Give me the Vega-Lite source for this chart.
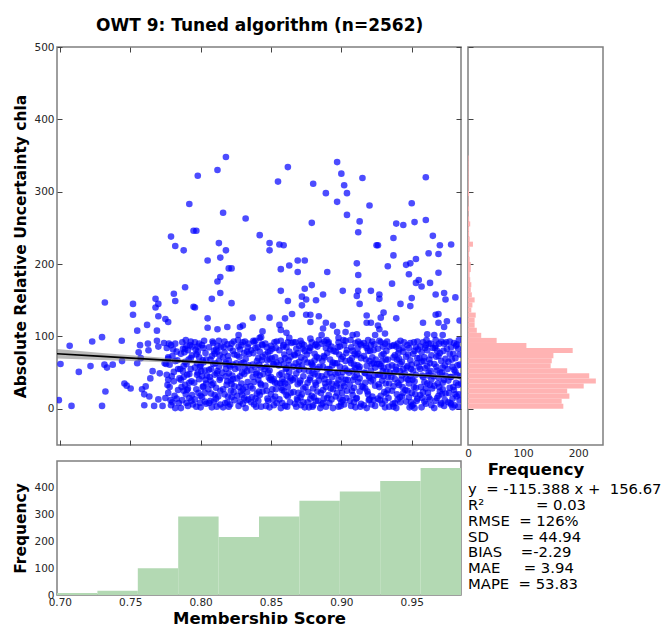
{
"$schema":"https://vega.github.io/schema/vega-lite/v6.json",
"background":"white",
"padding":{"left":13,"top":17,"right":0,"bottom":0},
"title":{"text":"OWT 9: Tuned algorithm (n=2562)","anchor":"start","frame":"group","dx":39,"offset":-7,"baseline":"alphabetic","font":"DejaVu Sans","fontSize":17,"fontWeight":"bold","color":"#000"},
"config":{
 "font":"DejaVu Sans",
 "view":{"stroke":"#7f7f7f","strokeWidth":1.5},
 "axis":{"domain":false,"grid":false,"labelFont":"DejaVu Sans","labelFontSize":10.5,"labelColor":"#262626","titleFont":"DejaVu Sans","titleFontWeight":"bold","titleColor":"#000","tickColor":"#444","minExtent":0,"labelFlush":false,"labelOverlap":false}
},
"datasets":{
"pts":[
{"m":0.818,"u":348},{"m":0.812,"u":330},{"m":0.798,"u":322},{"m":0.792,"u":283},{"m":0.816,"u":271},{"m":0.832,"u":263},{"m":0.842,"u":240},{"m":0.795,"u":246},{"m":0.797,"u":246},{"m":0.779,"u":238},{"m":0.782,"u":225},{"m":0.788,"u":219},{"m":0.813,"u":229},{"m":0.818,"u":219},{"m":0.814,"u":209},{"m":0.805,"u":205},{"m":0.820,"u":194},{"m":0.822,"u":194},{"m":0.814,"u":182},{"m":0.812,"u":176},{"m":0.814,"u":160},{"m":0.808,"u":152},{"m":0.822,"u":146},{"m":0.789,"u":168},{"m":0.781,"u":159},{"m":0.782,"u":149},{"m":0.768,"u":152},{"m":0.770,"u":145},{"m":0.768,"u":140},{"m":0.795,"u":141},{"m":0.796,"u":140},{"m":0.732,"u":147},{"m":0.752,"u":145},{"m":0.752,"u":130},{"m":0.770,"u":128},{"m":0.775,"u":124},{"m":0.777,"u":120},{"m":0.762,"u":116},{"m":0.755,"u":108},{"m":0.769,"u":108},{"m":0.805,"u":125},{"m":0.837,"u":126},{"m":0.819,"u":113},{"m":0.828,"u":113},{"m":0.830,"u":115},{"m":0.812,"u":110},{"m":0.805,"u":112},{"m":0.723,"u":93},{"m":0.730,"u":99},{"m":0.744,"u":94},{"m":0.827,"u":102},{"m":0.842,"u":98},
{"m":0.897,"u":341},{"m":0.862,"u":334},{"m":0.855,"u":314},{"m":0.900,"u":325},{"m":0.915,"u":319},{"m":0.960,"u":320},{"m":0.880,"u":311},{"m":0.902,"u":309},{"m":0.889,"u":298},{"m":0.904,"u":298},{"m":0.897,"u":286},{"m":0.920,"u":281},{"m":0.950,"u":284},{"m":0.904,"u":268},{"m":0.879,"u":257},{"m":0.913,"u":259},{"m":0.912,"u":244},{"m":0.939,"u":256},{"m":0.944,"u":254},{"m":0.952,"u":258},{"m":0.960,"u":261},{"m":0.965,"u":239},{"m":0.849,"u":229},{"m":0.849,"u":219},{"m":0.856,"u":227},{"m":0.859,"u":226},{"m":0.925,"u":226},{"m":0.926,"u":226},{"m":0.937,"u":236},{"m":0.970,"u":226},{"m":0.978,"u":227},{"m":0.962,"u":215},{"m":0.969,"u":214},{"m":0.937,"u":212},{"m":0.911,"u":201},{"m":0.912,"u":185},{"m":0.857,"u":193},{"m":0.863,"u":198},{"m":0.869,"u":205},{"m":0.874,"u":205},{"m":0.869,"u":189},{"m":0.890,"u":189},{"m":0.933,"u":197},{"m":0.946,"u":199},{"m":0.949,"u":201},{"m":0.953,"u":207},{"m":0.948,"u":186},{"m":0.969,"u":188},{"m":0.879,"u":171},{"m":0.874,"u":166},{"m":0.857,"u":163},{"m":0.887,"u":158},{"m":0.901,"u":163},{"m":0.912,"u":163},{"m":0.921,"u":163},{"m":0.936,"u":173},{"m":0.955,"u":178},{"m":0.953,"u":174},{"m":0.963,"u":174},{"m":0.957,"u":169},{"m":0.967,"u":158},{"m":0.973,"u":160},{"m":0.981,"u":154},{"m":0.974,"u":151},{"m":0.927,"u":158},{"m":0.927,"u":152},{"m":0.911,"u":156},{"m":0.872,"u":155},{"m":0.862,"u":149},{"m":0.875,"u":151},{"m":0.882,"u":150},{"m":0.872,"u":143},{"m":0.913,"u":145},{"m":0.950,"u":153},{"m":0.949,"u":142},{"m":0.942,"u":145},{"m":0.930,"u":133},{"m":0.849,"u":126},{"m":0.860,"u":125},{"m":0.865,"u":131},{"m":0.875,"u":130},{"m":0.878,"u":130},{"m":0.878,"u":120},{"m":0.884,"u":128},{"m":0.889,"u":119},{"m":0.887,"u":111},{"m":0.894,"u":115},{"m":0.904,"u":117},{"m":0.918,"u":129},{"m":0.921,"u":119},{"m":0.918,"u":119},{"m":0.928,"u":126},{"m":0.926,"u":115},{"m":0.927,"u":110},{"m":0.939,"u":125},{"m":0.931,"u":104},{"m":0.958,"u":119},{"m":0.967,"u":130},{"m":0.969,"u":131},{"m":0.975,"u":121},{"m":0.969,"u":119},{"m":0.973,"u":113},{"m":0.984,"u":122},{"m":0.961,"u":103},{"m":0.844,"u":107},{"m":0.843,"u":99},{"m":0.856,"u":116},{"m":0.857,"u":109},{"m":0.861,"u":105},{"m":0.863,"u":98},{"m":0.878,"u":97},{"m":0.886,"u":102},{"m":0.897,"u":106},{"m":0.898,"u":98},{"m":0.903,"u":106},{"m":0.908,"u":102},{"m":0.911,"u":103},{"m":0.924,"u":102},{"m":0.966,"u":102},{"m":0.972,"u":102},
{"m":0.707,"u":87},{"m":0.7005,"u":62},{"m":0.7135,"u":51},{"m":0.7218,"u":59},{"m":0.7317,"u":61},{"m":0.7335,"u":57},{"m":0.7376,"u":61},{"m":0.7442,"u":66},{"m":0.755,"u":63},{"m":0.7575,"u":70},{"m":0.7324,"u":24},{"m":0.7459,"u":35},{"m":0.7475,"u":32},{"m":0.7503,"u":28},{"m":0.6993,"u":12},{"m":0.7083,"u":4},{"m":0.730,"u":4},{"m":0.7584,"u":27},{"m":0.760,"u":20},{"m":0.7636,"u":17},{"m":0.7643,"u":42},{"m":0.7659,"u":52},{"m":0.757,"u":88},{"m":0.756,"u":78},{"m":0.7626,"u":90},{"m":0.763,"u":81},{"m":0.769,"u":94},{"m":0.770,"u":86},{"m":0.774,"u":91},{"m":0.777,"u":71},{"m":0.7745,"u":63},{"m":0.771,"u":49},{"m":0.777,"u":40},{"m":0.761,"u":31},{"m":0.770,"u":13},{"m":0.775,"u":15},{"m":0.767,"u":4},{"m":0.773,"u":4},{"m":0.7787,"u":12},{"m":0.760,"u":5},
{"m":0.776,"u":84},{"m":0.777,"u":22},{"m":0.778,"u":61},{"m":0.779,"u":5},{"m":0.780,"u":73},{"m":0.781,"u":38},{"m":0.782,"u":90},{"m":0.783,"u":14},{"m":0.784,"u":55},{"m":0.776,"u":47},{"m":0.778,"u":30},{"m":0.780,"u":9},{"m":0.782,"u":66},{"m":0.783,"u":79},{"m":0.784,"u":26},{"m":0.779,"u":88},{"m":0.781,"u":51},{"m":0.777,"u":69},{"m":0.785,"u":42},{"m":0.782,"u":1},
{"m":0.786,"u":76},{"m":0.787,"u":12},{"m":0.788,"u":59},{"m":0.789,"u":33},{"m":0.790,"u":87},{"m":0.791,"u":4},{"m":0.792,"u":48},{"m":0.793,"u":70},{"m":0.794,"u":19},{"m":0.786,"u":40},{"m":0.787,"u":92},{"m":0.788,"u":25},{"m":0.789,"u":65},{"m":0.790,"u":8},{"m":0.791,"u":81},{"m":0.792,"u":36},{"m":0.793,"u":55},{"m":0.794,"u":86},{"m":0.786,"u":1},{"m":0.788,"u":44},{"m":0.790,"u":62},{"m":0.792,"u":15},{"m":0.794,"u":74},{"m":0.789,"u":83},{"m":0.791,"u":28},{"m":0.793,"u":93},
{"m":0.796,"u":57},{"m":0.797,"u":3},{"m":0.798,"u":79},{"m":0.799,"u":41},{"m":0.800,"u":18},{"m":0.801,"u":88},{"m":0.802,"u":64},{"m":0.803,"u":10},{"m":0.804,"u":35},{"m":0.796,"u":92},{"m":0.797,"u":27},{"m":0.798,"u":50},{"m":0.799,"u":71},{"m":0.800,"u":2},{"m":0.801,"u":45},{"m":0.802,"u":84},{"m":0.803,"u":22},{"m":0.804,"u":68},{"m":0.796,"u":13},{"m":0.798,"u":86},{"m":0.800,"u":60},{"m":0.802,"u":31},{"m":0.804,"u":7},{"m":0.797,"u":75},{"m":0.799,"u":90},{"m":0.801,"u":16},{"m":0.803,"u":53},
{"m":0.806,"u":8},{"m":0.807,"u":68},{"m":0.808,"u":33},{"m":0.809,"u":91},{"m":0.810,"u":47},{"m":0.811,"u":14},{"m":0.812,"u":79},{"m":0.813,"u":58},{"m":0.814,"u":25},{"m":0.806,"u":85},{"m":0.807,"u":39},{"m":0.808,"u":2},{"m":0.809,"u":62},{"m":0.810,"u":76},{"m":0.811,"u":29},{"m":0.812,"u":52},{"m":0.813,"u":94},{"m":0.814,"u":6},{"m":0.806,"u":54},{"m":0.808,"u":73},{"m":0.810,"u":19},{"m":0.812,"u":87},{"m":0.814,"u":43},{"m":0.807,"u":11},{"m":0.809,"u":35},{"m":0.811,"u":82},{"m":0.813,"u":66},
{"m":0.816,"u":71},{"m":0.817,"u":20},{"m":0.818,"u":45},{"m":0.819,"u":89},{"m":0.820,"u":3},{"m":0.821,"u":58},{"m":0.822,"u":34},{"m":0.823,"u":80},{"m":0.824,"u":12},{"m":0.816,"u":27},{"m":0.817,"u":93},{"m":0.818,"u":64},{"m":0.819,"u":9},{"m":0.820,"u":49},{"m":0.821,"u":84},{"m":0.822,"u":16},{"m":0.823,"u":41},{"m":0.824,"u":75},{"m":0.816,"u":2},{"m":0.818,"u":55},{"m":0.820,"u":67},{"m":0.822,"u":90},{"m":0.824,"u":31},{"m":0.817,"u":78},{"m":0.819,"u":38},{"m":0.821,"u":6},{"m":0.823,"u":61},
{"m":0.826,"u":42},{"m":0.827,"u":86},{"m":0.828,"u":10},{"m":0.829,"u":63},{"m":0.830,"u":27},{"m":0.831,"u":77},{"m":0.832,"u":1},{"m":0.833,"u":52},{"m":0.834,"u":90},{"m":0.826,"u":18},{"m":0.827,"u":57},{"m":0.828,"u":82},{"m":0.829,"u":35},{"m":0.830,"u":7},{"m":0.831,"u":48},{"m":0.832,"u":69},{"m":0.833,"u":23},{"m":0.834,"u":60},{"m":0.826,"u":74},{"m":0.828,"u":45},{"m":0.830,"u":92},{"m":0.832,"u":30},{"m":0.834,"u":13},{"m":0.827,"u":4},{"m":0.829,"u":88},{"m":0.831,"u":15},{"m":0.833,"u":79},
{"m":0.836,"u":9},{"m":0.837,"u":61},{"m":0.838,"u":37},{"m":0.839,"u":84},{"m":0.840,"u":21},{"m":0.841,"u":70},{"m":0.842,"u":46},{"m":0.843,"u":3},{"m":0.844,"u":88},{"m":0.836,"u":53},{"m":0.837,"u":28},{"m":0.838,"u":92},{"m":0.839,"u":14},{"m":0.840,"u":66},{"m":0.841,"u":40},{"m":0.842,"u":79},{"m":0.843,"u":57},{"m":0.844,"u":24},{"m":0.836,"u":81},{"m":0.838,"u":6},{"m":0.840,"u":50},{"m":0.842,"u":19},{"m":0.844,"u":72},{"m":0.837,"u":44},{"m":0.839,"u":94},{"m":0.841,"u":11},{"m":0.843,"u":33},
{"m":0.846,"u":75},{"m":0.847,"u":25},{"m":0.848,"u":50},{"m":0.849,"u":2},{"m":0.850,"u":87},{"m":0.851,"u":39},{"m":0.852,"u":62},{"m":0.853,"u":17},{"m":0.854,"u":93},{"m":0.846,"u":32},{"m":0.847,"u":58},{"m":0.848,"u":11},{"m":0.849,"u":69},{"m":0.850,"u":44},{"m":0.851,"u":83},{"m":0.852,"u":5},{"m":0.853,"u":36},{"m":0.854,"u":64},{"m":0.846,"u":90},{"m":0.848,"u":78},{"m":0.850,"u":20},{"m":0.852,"u":41},{"m":0.854,"u":8},{"m":0.847,"u":85},{"m":0.849,"u":53},{"m":0.851,"u":27},{"m":0.853,"u":71},
{"m":0.856,"u":13},{"m":0.857,"u":67},{"m":0.858,"u":41},{"m":0.859,"u":88},{"m":0.860,"u":4},{"m":0.861,"u":56},{"m":0.862,"u":30},{"m":0.863,"u":79},{"m":0.864,"u":22},{"m":0.856,"u":47},{"m":0.857,"u":94},{"m":0.858,"u":8},{"m":0.859,"u":62},{"m":0.860,"u":35},{"m":0.861,"u":85},{"m":0.862,"u":17},{"m":0.863,"u":51},{"m":0.864,"u":72},{"m":0.856,"u":81},{"m":0.858,"u":26},{"m":0.860,"u":70},{"m":0.862,"u":92},{"m":0.864,"u":43},{"m":0.857,"u":1},{"m":0.859,"u":37},{"m":0.861,"u":19},{"m":0.863,"u":60},
{"m":0.866,"u":58},{"m":0.867,"u":7},{"m":0.868,"u":83},{"m":0.869,"u":34},{"m":0.870,"u":65},{"m":0.871,"u":16},{"m":0.872,"u":90},{"m":0.873,"u":45},{"m":0.874,"u":2},{"m":0.866,"u":23},{"m":0.867,"u":74},{"m":0.868,"u":49},{"m":0.869,"u":12},{"m":0.870,"u":87},{"m":0.871,"u":39},{"m":0.872,"u":60},{"m":0.873,"u":28},{"m":0.874,"u":80},{"m":0.866,"u":92},{"m":0.868,"u":3},{"m":0.870,"u":54},{"m":0.872,"u":20},{"m":0.874,"u":68},{"m":0.867,"u":42},{"m":0.869,"u":77},{"m":0.871,"u":94},{"m":0.873,"u":9},
{"m":0.876,"u":36},{"m":0.877,"u":80},{"m":0.878,"u":14},{"m":0.879,"u":61},{"m":0.880,"u":5},{"m":0.881,"u":48},{"m":0.882,"u":89},{"m":0.883,"u":24},{"m":0.884,"u":70},{"m":0.876,"u":64},{"m":0.877,"u":2},{"m":0.878,"u":43},{"m":0.879,"u":92},{"m":0.880,"u":28},{"m":0.881,"u":76},{"m":0.882,"u":11},{"m":0.883,"u":55},{"m":0.884,"u":39},{"m":0.876,"u":9},{"m":0.878,"u":84},{"m":0.880,"u":59},{"m":0.882,"u":33},{"m":0.884,"u":95},{"m":0.877,"u":52},{"m":0.879,"u":18},{"m":0.881,"u":67},{"m":0.883,"u":86},{"m":0.885,"u":1},
{"m":0.886,"u":90},{"m":0.887,"u":26},{"m":0.888,"u":71},{"m":0.889,"u":3},{"m":0.890,"u":55},{"m":0.891,"u":37},{"m":0.892,"u":82},{"m":0.893,"u":13},{"m":0.894,"u":64},{"m":0.886,"u":45},{"m":0.887,"u":8},{"m":0.888,"u":93},{"m":0.889,"u":30},{"m":0.890,"u":77},{"m":0.891,"u":19},{"m":0.892,"u":50},{"m":0.893,"u":86},{"m":0.894,"u":1},{"m":0.886,"u":6},{"m":0.888,"u":41},{"m":0.890,"u":15},{"m":0.892,"u":68},{"m":0.894,"u":27},{"m":0.887,"u":58},{"m":0.889,"u":84},{"m":0.891,"u":92},{"m":0.893,"u":35},
{"m":0.896,"u":17},{"m":0.897,"u":63},{"m":0.898,"u":40},{"m":0.899,"u":86},{"m":0.900,"u":9},{"m":0.901,"u":72},{"m":0.902,"u":31},{"m":0.903,"u":94},{"m":0.904,"u":53},{"m":0.896,"u":79},{"m":0.897,"u":22},{"m":0.898,"u":3},{"m":0.899,"u":58},{"m":0.900,"u":44},{"m":0.901,"u":12},{"m":0.902,"u":88},{"m":0.903,"u":66},{"m":0.904,"u":25},{"m":0.896,"u":48},{"m":0.898,"u":92},{"m":0.900,"u":69},{"m":0.902,"u":6},{"m":0.904,"u":81},{"m":0.897,"u":35},{"m":0.899,"u":14},{"m":0.901,"u":51},{"m":0.903,"u":40},
{"m":0.906,"u":67},{"m":0.907,"u":4},{"m":0.908,"u":52},{"m":0.909,"u":29},{"m":0.910,"u":91},{"m":0.911,"u":15},{"m":0.912,"u":76},{"m":0.913,"u":42},{"m":0.914,"u":7},{"m":0.906,"u":33},{"m":0.907,"u":85},{"m":0.908,"u":19},{"m":0.909,"u":61},{"m":0.910,"u":2},{"m":0.911,"u":47},{"m":0.912,"u":93},{"m":0.913,"u":24},{"m":0.914,"u":70},{"m":0.906,"u":11},{"m":0.908,"u":80},{"m":0.910,"u":56},{"m":0.912,"u":37},{"m":0.914,"u":88},{"m":0.907,"u":63},{"m":0.909,"u":9},{"m":0.911,"u":74},{"m":0.913,"u":58},
{"m":0.916,"u":5},{"m":0.917,"u":49},{"m":0.918,"u":84},{"m":0.919,"u":20},{"m":0.920,"u":66},{"m":0.921,"u":38},{"m":0.922,"u":93},{"m":0.923,"u":12},{"m":0.924,"u":57},{"m":0.916,"u":73},{"m":0.917,"u":28},{"m":0.918,"u":1},{"m":0.919,"u":80},{"m":0.920,"u":43},{"m":0.921,"u":88},{"m":0.922,"u":17},{"m":0.923,"u":63},{"m":0.924,"u":32},{"m":0.916,"u":91},{"m":0.918,"u":59},{"m":0.920,"u":13},{"m":0.922,"u":71},{"m":0.924,"u":4},{"m":0.917,"u":36},{"m":0.919,"u":95},{"m":0.921,"u":53},{"m":0.923,"u":81},
{"m":0.926,"u":83},{"m":0.927,"u":30},{"m":0.928,"u":59},{"m":0.929,"u":7},{"m":0.930,"u":45},{"m":0.931,"u":90},{"m":0.932,"u":21},{"m":0.933,"u":68},{"m":0.934,"u":3},{"m":0.926,"u":14},{"m":0.927,"u":62},{"m":0.928,"u":92},{"m":0.929,"u":39},{"m":0.930,"u":76},{"m":0.931,"u":2},{"m":0.932,"u":51},{"m":0.933,"u":26},{"m":0.934,"u":86},{"m":0.926,"u":47},{"m":0.928,"u":18},{"m":0.930,"u":57},{"m":0.932,"u":80},{"m":0.934,"u":35},{"m":0.927,"u":94},{"m":0.929,"u":66},{"m":0.931,"u":11},{"m":0.933,"u":44},
{"m":0.936,"u":25},{"m":0.937,"u":71},{"m":0.938,"u":8},{"m":0.939,"u":54},{"m":0.940,"u":90},{"m":0.941,"u":33},{"m":0.942,"u":62},{"m":0.943,"u":17},{"m":0.944,"u":79},{"m":0.936,"u":60},{"m":0.937,"u":3},{"m":0.938,"u":41},{"m":0.939,"u":86},{"m":0.940,"u":13},{"m":0.941,"u":69},{"m":0.942,"u":94},{"m":0.943,"u":46},{"m":0.944,"u":22},{"m":0.936,"u":87},{"m":0.938,"u":74},{"m":0.940,"u":36},{"m":0.942,"u":9},{"m":0.944,"u":55},{"m":0.937,"u":31},{"m":0.939,"u":1},{"m":0.941,"u":82},{"m":0.943,"u":65},{"m":0.945,"u":49},
{"m":0.946,"u":42},{"m":0.947,"u":88},{"m":0.948,"u":16},{"m":0.949,"u":67},{"m":0.950,"u":4},{"m":0.951,"u":53},{"m":0.952,"u":80},{"m":0.953,"u":29},{"m":0.954,"u":93},{"m":0.946,"u":10},{"m":0.947,"u":59},{"m":0.948,"u":35},{"m":0.949,"u":91},{"m":0.950,"u":22},{"m":0.951,"u":76},{"m":0.952,"u":1},{"m":0.953,"u":47},{"m":0.954,"u":70},{"m":0.946,"u":72},{"m":0.948,"u":84},{"m":0.950,"u":61},{"m":0.952,"u":38},{"m":0.954,"u":14},{"m":0.947,"u":25},{"m":0.949,"u":45},{"m":0.951,"u":6},{"m":0.953,"u":85},{"m":0.955,"u":58},
{"m":0.956,"u":19},{"m":0.957,"u":65},{"m":0.958,"u":92},{"m":0.959,"u":37},{"m":0.960,"u":7},{"m":0.961,"u":81},{"m":0.962,"u":50},{"m":0.963,"u":13},{"m":0.964,"u":74},{"m":0.956,"u":86},{"m":0.957,"u":2},{"m":0.958,"u":44},{"m":0.959,"u":71},{"m":0.960,"u":28},{"m":0.961,"u":59},{"m":0.962,"u":90},{"m":0.963,"u":33},{"m":0.964,"u":5},{"m":0.956,"u":55},{"m":0.958,"u":23},{"m":0.960,"u":88},{"m":0.962,"u":16},{"m":0.964,"u":41},{"m":0.957,"u":78},{"m":0.959,"u":10},{"m":0.961,"u":35},{"m":0.963,"u":63},{"m":0.965,"u":84},
{"m":0.966,"u":62},{"m":0.967,"u":11},{"m":0.968,"u":80},{"m":0.969,"u":43},{"m":0.970,"u":24},{"m":0.971,"u":93},{"m":0.972,"u":57},{"m":0.973,"u":4},{"m":0.974,"u":69},{"m":0.966,"u":32},{"m":0.967,"u":87},{"m":0.968,"u":15},{"m":0.969,"u":73},{"m":0.970,"u":50},{"m":0.971,"u":8},{"m":0.972,"u":36},{"m":0.973,"u":90},{"m":0.974,"u":21},{"m":0.966,"u":1},{"m":0.968,"u":53},{"m":0.970,"u":77},{"m":0.972,"u":27},{"m":0.974,"u":46},{"m":0.967,"u":95},{"m":0.969,"u":18},{"m":0.971,"u":66},{"m":0.973,"u":40},{"m":0.975,"u":83},
{"m":0.976,"u":39},{"m":0.977,"u":76},{"m":0.978,"u":6},{"m":0.979,"u":58},{"m":0.980,"u":91},{"m":0.981,"u":20},{"m":0.982,"u":47},{"m":0.983,"u":83},{"m":0.984,"u":12},{"m":0.976,"u":65},{"m":0.977,"u":29},{"m":0.978,"u":85},{"m":0.979,"u":2},{"m":0.980,"u":54},{"m":0.981,"u":70},{"m":0.982,"u":17},{"m":0.983,"u":33},{"m":0.984,"u":61},{"m":0.976,"u":9},{"m":0.978,"u":44},{"m":0.980,"u":26},{"m":0.982,"u":89},{"m":0.984,"u":75},{"m":0.977,"u":93},{"m":0.979,"u":14},{"m":0.981,"u":51},{"m":0.983,"u":3},{"m":0.985,"u":35},
{"m":0.7855,"u":55},{"m":0.7875,"u":83},{"m":0.7895,"u":20},{"m":0.7915,"u":68},{"m":0.7935,"u":38},{"m":0.7945,"u":6},{"m":0.7865,"u":30},{"m":0.7885,"u":78},{"m":0.7905,"u":47},{"m":0.7925,"u":88},{"m":0.7875,"u":52},{"m":0.7905,"u":26},{"m":0.7935,"u":11},{"m":0.7895,"u":95},
{"m":0.7955,"u":36},{"m":0.7975,"u":63},{"m":0.7995,"u":8},{"m":0.8015,"u":30},{"m":0.8035,"u":77},{"m":0.7965,"u":82},{"m":0.7985,"u":22},{"m":0.8005,"u":52},{"m":0.8025,"u":94},{"m":0.8045,"u":46},{"m":0.7975,"u":47},{"m":0.8015,"u":67},{"m":0.8035,"u":40},{"m":0.7995,"u":58},
{"m":0.8055,"u":27},{"m":0.8075,"u":55},{"m":0.8095,"u":80},{"m":0.8115,"u":3},{"m":0.8135,"u":40},{"m":0.8065,"u":44},{"m":0.8085,"u":93},{"m":0.8105,"u":63},{"m":0.8125,"u":17},{"m":0.8145,"u":86},{"m":0.8075,"u":21},{"m":0.8115,"u":49},{"m":0.8095,"u":10},{"m":0.8135,"u":74},
{"m":0.8155,"u":50},{"m":0.8175,"u":8},{"m":0.8195,"u":73},{"m":0.8215,"u":25},{"m":0.8235,"u":93},{"m":0.8165,"u":85},{"m":0.8185,"u":33},{"m":0.8205,"u":60},{"m":0.8225,"u":46},{"m":0.8245,"u":55},{"m":0.8175,"u":62},{"m":0.8215,"u":39},{"m":0.8195,"u":17},{"m":0.8235,"u":23},
{"m":0.8255,"u":63},{"m":0.8275,"u":30},{"m":0.8295,"u":50},{"m":0.8315,"u":93},{"m":0.8335,"u":37},{"m":0.8265,"u":95},{"m":0.8285,"u":24},{"m":0.8305,"u":64},{"m":0.8325,"u":12},{"m":0.8345,"u":76},{"m":0.8275,"u":72},{"m":0.8315,"u":56},{"m":0.8295,"u":19},{"m":0.8335,"u":85},
{"m":0.8355,"u":31},{"m":0.8375,"u":77},{"m":0.8395,"u":48},{"m":0.8415,"u":24},{"m":0.8435,"u":67},{"m":0.8365,"u":16},{"m":0.8385,"u":58},{"m":0.8405,"u":85},{"m":0.8425,"u":35},{"m":0.8445,"u":48},{"m":0.8375,"u":94},{"m":0.8415,"u":61},{"m":0.8395,"u":3},{"m":0.8435,"u":89},
{"m":0.8455,"u":55},{"m":0.8475,"u":14},{"m":0.8495,"u":80},{"m":0.8515,"u":62},{"m":0.8535,"u":27},{"m":0.8465,"u":4},{"m":0.8485,"u":43},{"m":0.8505,"u":70},{"m":0.8525,"u":92},{"m":0.8545,"u":35},{"m":0.8475,"u":67},{"m":0.8515,"u":13},{"m":0.8495,"u":40},{"m":0.8535,"u":84},
{"m":0.8555,"u":60},{"m":0.8575,"u":29},{"m":0.8595,"u":75},{"m":0.8615,"u":45},{"m":0.8635,"u":9},{"m":0.8565,"u":35},{"m":0.8585,"u":86},{"m":0.8605,"u":55},{"m":0.8625,"u":67},{"m":0.8645,"u":91},{"m":0.8575,"u":49},{"m":0.8615,"u":3},{"m":0.8595,"u":24},{"m":0.8635,"u":38},
{"m":0.8655,"u":40},{"m":0.8675,"u":63},{"m":0.8695,"u":22},{"m":0.8715,"u":71},{"m":0.8735,"u":54},{"m":0.8665,"u":75},{"m":0.8685,"u":14},{"m":0.8705,"u":36},{"m":0.8725,"u":83},{"m":0.8745,"u":30},{"m":0.8675,"u":92},{"m":0.8715,"u":5},{"m":0.8695,"u":58},{"m":0.8735,"u":88},
{"m":0.8755,"u":75},{"m":0.8775,"u":40},{"m":0.8795,"u":3},{"m":0.8815,"u":88},{"m":0.8835,"u":46},{"m":0.8765,"u":23},{"m":0.8785,"u":64},{"m":0.8805,"u":16},{"m":0.8825,"u":72},{"m":0.8845,"u":58},{"m":0.8775,"u":85},{"m":0.8815,"u":36},{"m":0.8795,"u":50},{"m":0.8835,"u":11},
{"m":0.8855,"u":22},{"m":0.8875,"u":73},{"m":0.8895,"u":47},{"m":0.8915,"u":8},{"m":0.8935,"u":60},{"m":0.8865,"u":66},{"m":0.8885,"u":35},{"m":0.8905,"u":90},{"m":0.8925,"u":28},{"m":0.8945,"u":80},{"m":0.8875,"u":14},{"m":0.8915,"u":55},{"m":0.8895,"u":95},{"m":0.8935,"u":44},
{"m":0.8955,"u":63},{"m":0.8975,"u":50},{"m":0.8995,"u":29},{"m":0.9015,"u":95},{"m":0.9035,"u":15},{"m":0.8965,"u":32},{"m":0.8985,"u":75},{"m":0.9005,"u":22},{"m":0.9025,"u":56},{"m":0.9045,"u":40},{"m":0.8975,"u":85},{"m":0.9015,"u":36},{"m":0.8995,"u":4},{"m":0.9035,"u":77},
{"m":0.9055,"u":50},{"m":0.9075,"u":25},{"m":0.9095,"u":76},{"m":0.9115,"u":60},{"m":0.9135,"u":90},{"m":0.9065,"u":95},{"m":0.9085,"u":40},{"m":0.9105,"u":14},{"m":0.9125,"u":55},{"m":0.9145,"u":31},{"m":0.9075,"u":70},{"m":0.9115,"u":83},{"m":0.9095,"u":44},{"m":0.9135,"u":3},
{"m":0.9155,"u":30},{"m":0.9175,"u":68},{"m":0.9195,"u":45},{"m":0.9215,"u":6},{"m":0.9235,"u":89},{"m":0.9165,"u":50},{"m":0.9185,"u":24},{"m":0.9205,"u":80},{"m":0.9225,"u":40},{"m":0.9245,"u":68},{"m":0.9175,"u":87},{"m":0.9215,"u":62},{"m":0.9195,"u":12},{"m":0.9235,"u":46},
{"m":0.9255,"u":62},{"m":0.9275,"u":12},{"m":0.9295,"u":86},{"m":0.9315,"u":35},{"m":0.9335,"u":58},{"m":0.9265,"u":34},{"m":0.9285,"u":74},{"m":0.9305,"u":23},{"m":0.9325,"u":93},{"m":0.9345,"u":50},{"m":0.9275,"u":47},{"m":0.9315,"u":68},{"m":0.9295,"u":52},{"m":0.9335,"u":15},
{"m":0.9355,"u":44},{"m":0.9375,"u":88},{"m":0.9395,"u":20},{"m":0.9415,"u":52},{"m":0.9435,"u":30},{"m":0.9365,"u":7},{"m":0.9385,"u":58},{"m":0.9405,"u":77},{"m":0.9425,"u":40},{"m":0.9445,"u":92},{"m":0.9375,"u":50},{"m":0.9415,"u":16},{"m":0.9395,"u":68},{"m":0.9435,"u":84},
{"m":0.9455,"u":26},{"m":0.9475,"u":75},{"m":0.9495,"u":55},{"m":0.9515,"u":92},{"m":0.9535,"u":63},{"m":0.9465,"u":57},{"m":0.9485,"u":2},{"m":0.9505,"u":40},{"m":0.9525,"u":20},{"m":0.9545,"u":82},{"m":0.9475,"u":40},{"m":0.9515,"u":30},{"m":0.9495,"u":9},{"m":0.9535,"u":11},
{"m":0.9555,"u":70},{"m":0.9575,"u":46},{"m":0.9595,"u":84},{"m":0.9615,"u":22},{"m":0.9635,"u":52},{"m":0.9565,"u":30},{"m":0.9585,"u":66},{"m":0.9605,"u":95},{"m":0.9625,"u":68},{"m":0.9645,"u":28},{"m":0.9575,"u":15},{"m":0.9615,"u":46},{"m":0.9595,"u":56},{"m":0.9635,"u":90},
{"m":0.9655,"u":45},{"m":0.9675,"u":72},{"m":0.9695,"u":30},{"m":0.9715,"u":50},{"m":0.9735,"u":60},{"m":0.9665,"u":84},{"m":0.9685,"u":35},{"m":0.9705,"u":6},{"m":0.9725,"u":80},{"m":0.9745,"u":92},{"m":0.9675,"u":58},{"m":0.9715,"u":20},{"m":0.9695,"u":90},{"m":0.9735,"u":12},
{"m":0.9755,"u":55},{"m":0.9775,"u":44},{"m":0.9795,"u":76},{"m":0.9815,"u":36},{"m":0.9835,"u":95},{"m":0.9765,"u":22},{"m":0.9785,"u":68},{"m":0.9805,"u":5},{"m":0.9825,"u":60},{"m":0.9845,"u":45},{"m":0.9775,"u":8},{"m":0.9815,"u":87},{"m":0.9795,"u":30},{"m":0.9835,"u":20},
{"m":0.7755,"u":62},{"m":0.7775,"u":90},{"m":0.7795,"u":45},{"m":0.7815,"u":18},{"m":0.7835,"u":67},{"m":0.7765,"u":33},{"m":0.7805,"u":82},{"m":0.7845,"u":8}
],
"fit":[{"x":0.698,"fit":76.13,"lo":69.5,"hi":82.8},{"x":0.73,"fit":72.44,"lo":67.6,"hi":77.3},{"x":0.76,"fit":68.98,"lo":65.3,"hi":72.7},{"x":0.79,"fit":65.52,"lo":63.0,"hi":68.0},{"x":0.82,"fit":62.05,"lo":60.3,"hi":63.8},{"x":0.85,"fit":58.59,"lo":57.1,"hi":60.1},{"x":0.88,"fit":55.13,"lo":53.7,"hi":56.5},{"x":0.91,"fit":51.67,"lo":50.2,"hi":53.1},{"x":0.94,"fit":48.21,"lo":46.5,"hi":49.9},{"x":0.985,"fit":43.01,"lo":40.8,"hi":45.2}],
"rh":[{"lo":0,"hi":7,"n":173},{"lo":7,"hi":14,"n":170},{"lo":14,"hi":21,"n":184},{"lo":21,"hi":28,"n":180},{"lo":28,"hi":35,"n":210},{"lo":35,"hi":42,"n":232},{"lo":42,"hi":49,"n":220},{"lo":49,"hi":56,"n":180},{"lo":56,"hi":63,"n":150},{"lo":63,"hi":70,"n":152},{"lo":70,"hi":77,"n":155},{"lo":77,"hi":84,"n":190},{"lo":84,"hi":91,"n":106},{"lo":91,"hi":98,"n":52},{"lo":98,"hi":105,"n":24},{"lo":105,"hi":112,"n":16},{"lo":112,"hi":119,"n":12},{"lo":119,"hi":126,"n":12},{"lo":126,"hi":133,"n":14},{"lo":133,"hi":140,"n":6},{"lo":140,"hi":147,"n":8},{"lo":147,"hi":154,"n":12},{"lo":154,"hi":161,"n":7},{"lo":161,"hi":168,"n":5},{"lo":168,"hi":175,"n":6},{"lo":175,"hi":182,"n":4},{"lo":182,"hi":189,"n":3},{"lo":189,"hi":196,"n":5},{"lo":196,"hi":203,"n":5},{"lo":203,"hi":210,"n":3},{"lo":210,"hi":217,"n":2},{"lo":217,"hi":224,"n":3},{"lo":224,"hi":231,"n":9},{"lo":231,"hi":238,"n":3},{"lo":238,"hi":245,"n":2},{"lo":245,"hi":252,"n":2},{"lo":252,"hi":259,"n":4},{"lo":259,"hi":266,"n":2},{"lo":266,"hi":273,"n":1},{"lo":273,"hi":280,"n":2},{"lo":280,"hi":287,"n":1},{"lo":287,"hi":294,"n":1},{"lo":294,"hi":301,"n":2},{"lo":301,"hi":308,"n":1},{"lo":308,"hi":315,"n":1},{"lo":315,"hi":322,"n":1},{"lo":322,"hi":329,"n":1},{"lo":329,"hi":336,"n":1},{"lo":336,"hi":343,"n":1},{"lo":343,"hi":350,"n":1}],
"bh":[{"lo":0.698,"hi":0.7267,"n":7},{"lo":0.7267,"hi":0.7554,"n":16},{"lo":0.7554,"hi":0.7841,"n":100},{"lo":0.7841,"hi":0.8128,"n":293},{"lo":0.8128,"hi":0.8415,"n":216},{"lo":0.8415,"hi":0.8702,"n":293},{"lo":0.8702,"hi":0.8989,"n":352},{"lo":0.8989,"hi":0.9276,"n":386},{"lo":0.9276,"hi":0.9563,"n":425},{"lo":0.9563,"hi":0.985,"n":474}],
"txt":[{"i":0,"t":"y\u00a0\u00a0= -115.388 x +\u00a0\u00a0156.67"},{"i":1,"t":"R²\u00a0\u00a0\u00a0\u00a0\u00a0\u00a0\u00a0\u00a0\u00a0\u00a0\u00a0= 0.03"},{"i":2,"t":"RMSE\u00a0\u00a0= 126%"},{"i":3,"t":"SD\u00a0\u00a0\u00a0\u00a0\u00a0\u00a0\u00a0= 44.94"},{"i":4,"t":"BIAS\u00a0\u00a0\u00a0\u00a0=-2.29"},{"i":5,"t":"MAE\u00a0\u00a0\u00a0\u00a0\u00a0= 3.94"},{"i":6,"t":"MAPE\u00a0\u00a0= 53.83"}]
},
"columns":2,
"align":"each",
"bounds":"flush",
"spacing":{"row":16,"column":7},
"concat":[
{
 "width":404,"height":398,
 "layer":[
  {"data":{"name":"pts"},"mark":{"type":"circle","size":44,"color":"#0000ff","opacity":0.7,"clip":true},
   "encoding":{
    "x":{"field":"m","type":"quantitative","scale":{"domain":[0.698,0.985],"nice":false,"zero":false},"axis":{"orient":"bottom","values":[0.7,0.75,0.8,0.85,0.9,0.95],"labels":false,"tickSize":-5,"title":null}},
    "y":{"field":"u","type":"quantitative","scale":{"domain":[-50,500],"nice":false,"zero":false},"axis":{"orient":"left","values":[0,100,200,300,400,500],"tickSize":-5,"labelPadding":8,"title":"Absolute Relative Uncertainty chla","titleFontSize":15.5,"titlePadding":5}}}},
  {"data":{"name":"fit"},"mark":{"type":"area","color":"#808080","opacity":0.55,"clip":true},
   "encoding":{
    "x":{"field":"x","type":"quantitative","axis":{"orient":"top","values":[0.7,0.75,0.8,0.85,0.9,0.95],"labels":false,"tickSize":-5,"title":null}},
    "y":{"field":"lo","type":"quantitative","axis":{"orient":"right","values":[0,100,200,300,400,500],"labels":false,"tickSize":-5,"title":null}},
    "y2":{"field":"hi"}}},
  {"data":{"name":"fit"},"mark":{"type":"line","color":"#000000","strokeWidth":1.6,"clip":true},
   "encoding":{
    "x":{"field":"x","type":"quantitative","axis":null},
    "y":{"field":"fit","type":"quantitative","axis":null}}}
 ],
 "resolve":{"axis":{"x":"independent","y":"independent"}}
},
{
 "width":135,"height":398,
 "data":{"name":"rh"},
 "mark":{"type":"rect","color":"#ffb3b3"},
 "encoding":{
  "y":{"field":"lo","type":"quantitative","scale":{"domain":[-50,500],"nice":false,"zero":false},"axis":{"orient":"left","values":[0,100,200,300,400,500],"labels":false,"tickSize":-5,"title":null}},
  "y2":{"field":"hi"},
  "x":{"field":"n","type":"quantitative","scale":{"domain":[0,245],"nice":false},"axis":{"values":[0,100,200],"ticks":false,"labelPadding":3,"title":"Frequency","titleFontSize":16.5,"titlePadding":3}},
  "x2":{"datum":0}
 }
},
{
 "width":404,"height":134,
 "data":{"name":"bh"},
 "mark":{"type":"rect","color":"#b3d9b3"},
 "encoding":{
  "x":{"field":"lo","type":"quantitative","scale":{"domain":[0.698,0.985],"nice":false,"zero":false},"axis":{"values":[0.7,0.75,0.8,0.85,0.9,0.95],"format":".2f","ticks":false,"labelPadding":2,"title":"Membership Score","titleFontSize":16.5,"titlePadding":3}},
  "x2":{"field":"hi"},
  "y":{"field":"n","type":"quantitative","scale":{"domain":[0,500],"nice":false},"axis":{"values":[0,100,200,300,400],"ticks":false,"labelPadding":3,"title":"Frequency","titleFontSize":15.5,"titlePadding":5}},
  "y2":{"datum":0}
 }
},
{
 "width":135,"height":134,
 "view":{"stroke":null},
 "data":{"name":"txt"},
 "mark":{"type":"text","align":"left","baseline":"middle","fontSize":14.8,"color":"#000000"},
 "encoding":{
  "x":{"datum":0,"type":"quantitative","scale":{"domain":[0,1]},"axis":null},
  "y":{"field":"i","type":"quantitative","scale":{"domain":[-1.83,6.63],"reverse":true,"nice":false,"zero":false},"axis":null},
  "text":{"field":"t"}
 }
}
]
}
